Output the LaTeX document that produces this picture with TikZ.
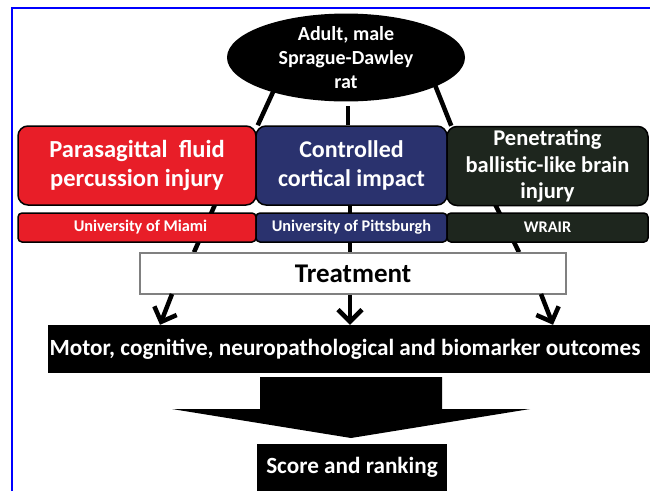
\documentclass[tikz,border=0pt]{standalone}
\usepackage{fontspec}
\setmainfont{Carlito}
\usetikzlibrary{arrows.meta,shapes.geometric}
\definecolor{cred}{RGB}{232,30,40}
\definecolor{cblue}{RGB}{42,50,110}
\definecolor{cgreen}{RGB}{30,38,30}
\definecolor{cframe}{RGB}{0,0,255}
\pgfdeclarelayer{bg}
\pgfdeclarelayer{paper}
\pgfsetlayers{paper,bg,main}
\tikzset{
  conn/.style={line width=4.5pt, black},
  arr/.style={conn, -{Straight Barb[length=12pt,width=24pt]}},
  inj/.style={draw=black, line width=1.5pt, rounded corners=10pt, text=white,
    font=\fontsize{24.5}{29.5}\selectfont\bfseries, align=center, inner sep=0pt,
    minimum height=79pt},
  uni/.style={draw=black, line width=1.5pt, rounded corners=4pt, text=white,
    font=\fontsize{16.3}{19}\selectfont\bfseries, inner sep=0pt, minimum height=29pt},
  blk/.style={fill=black, text=white, inner sep=0pt,
    font=\fontsize{23.2}{26}\selectfont\bfseries}
}
\begin{document}
\begin{tikzpicture}[x=1pt,y=-1pt]
\useasboundingbox (0,0) rectangle (650,491);
\begin{pgfonlayer}{paper}
\fill[white] (0,0) rectangle (650,491);
\end{pgfonlayer}
\draw[cframe, line width=2.5pt] (12,491) -- (12,8) -- (650,8);

% top ellipse
\node[ellipse, fill=black, text=white, inner sep=0pt, minimum width=238pt,
  minimum height=86pt, align=center,
  font=\fontsize{20}{24}\selectfont\bfseries] (rat) at (346,57.5)
  {Adult, male\\Sprague-Dawley\\rat};

% injury models
\node[inj, fill=cred, minimum width=238pt] (pfp) at (137,165.5)
  {Parasagittal\ \ fluid\\percussion injury};
\node[inj, fill=cblue, minimum width=191pt, font=\fontsize{24}{29.5}\selectfont\bfseries]
  (cci) at (351.5,165.5)
  {Controlled\\cortical impact};
\node[inj, fill=cgreen, minimum width=201pt,
  font=\fontsize{22.5}{26.5}\selectfont\bfseries] (pbbi) at (547.5,166)
  {Penetrating\\ballistic-like brain\\injury};

% institutions
\node[uni, fill=cred, minimum width=238pt] (miami) at (137,227.5)
  {\hspace{7pt}University of Miami};
\node[uni, fill=cblue, minimum width=191pt] (pitt) at (351.5,227.5)
  {University of Pittsburgh};
\node[uni, fill=cgreen, minimum width=201pt] (wrair) at (547.5,227.5)
  {WRAIR};

% treatment
\node[draw=black!50, line width=1.5pt, fill=white, minimum width=426pt,
  minimum height=41pt, inner sep=0pt,
  font=\fontsize{27}{30}\selectfont\bfseries] (treat) at (353,273.5)
  {Treatment};

% outcomes
\node[blk, minimum width=602pt, minimum height=48pt] (out) at (349,349)
  {\hspace{-8pt}Motor, cognitive, neuropathological and biomarker outcomes};

% score
\node[blk, minimum width=190pt, minimum height=47pt] (score) at (352,467.5)
  {Score and ranking};

% big arrow
\fill[black] (260,377) -- (442,377) -- (442,409) -- (530,409) -- (351,438)
  -- (172,409) -- (260,409) -- cycle;

% connectors
\begin{pgfonlayer}{bg}
  \coordinate (el) at ([shift={(-70,28)}]rat.center);
  \coordinate (er) at ([shift={(88,25)}]rat.center);
  \draw[conn] (el) -- ([xshift=1pt]pfp.north east);
  \draw[conn] (cci.north -| 348,0) -- ([yshift=-4pt]rat.south -| 348,0);
  \draw[conn] (er) -- ([xshift=5pt]pbbi.north west);
  \coordinate (l1) at (217,200);
  \coordinate (r1) at (493,200);
  \draw[conn] (l1) -- (treat.north -| 194,0);
  \draw[conn] (cci.south -| 350,0) -- (treat.north -| 350,0);
  \draw[conn] (r1) -- (treat.north -| 519,0);
\end{pgfonlayer}
\coordinate (al) at (172,294);
\coordinate (ar) at (541,294);
\draw[arr] (al) -- (out.north -| 160,0);
\draw[arr] (treat.south -| 350,0) -- (out.north -| 350,0);
\draw[arr] (ar) -- (out.north -| 553,0);
\end{tikzpicture}
\end{document}
